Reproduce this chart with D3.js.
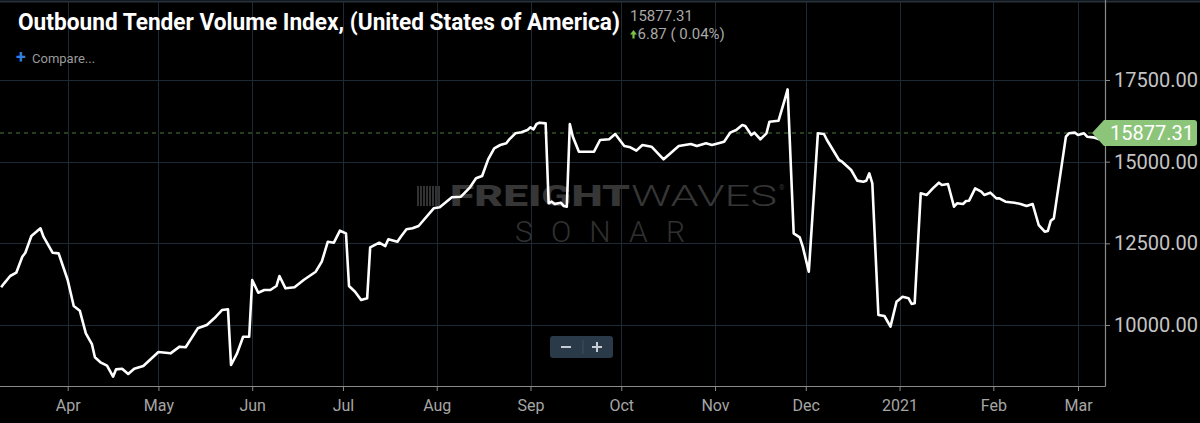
<!DOCTYPE html>
<html><head><meta charset="utf-8">
<script src="https://cdn.jsdelivr.net/npm/d3@7"></script>
<style>
html,body{margin:0;padding:0;background:#000;}
svg{display:block;font-family:Roboto, "Noto Sans", sans-serif;}
</style></head>
<body>
<svg id="chart" width="1200" height="423"></svg>
<script>
// ---- data ----
const titleText = "Outbound Tender Volume Index, (United States of America)";
const lastValue = 15877.31;
const changeText = "6.87 ( 0.04%)";
const compareText = "Compare...";

const dates = [
"2020-03-10","2020-03-11","2020-03-13","2020-03-15","2020-03-17","2020-03-18","2020-03-20","2020-03-23","2020-03-24","2020-03-27","2020-03-29",
"2020-04-01","2020-04-03","2020-04-05","2020-04-07","2020-04-09","2020-04-10","2020-04-12","2020-04-14","2020-04-16","2020-04-17","2020-04-19","2020-04-21","2020-04-23","2020-04-26",
"2020-05-01","2020-05-05","2020-05-08","2020-05-10","2020-05-14","2020-05-17","2020-05-20","2020-05-22","2020-05-24","2020-05-25","2020-05-27","2020-05-29","2020-05-31",
"2020-06-01","2020-06-03","2020-06-05","2020-06-07","2020-06-09","2020-06-10","2020-06-12","2020-06-15","2020-06-18","2020-06-22","2020-06-24","2020-06-26","2020-06-28","2020-06-30",
"2020-07-02","2020-07-03","2020-07-05","2020-07-07","2020-07-09","2020-07-10","2020-07-13","2020-07-15","2020-07-16","2020-07-19","2020-07-20","2020-07-22","2020-07-24","2020-07-26","2020-07-31",
"2020-08-02","2020-08-06","2020-08-09","2020-08-12","2020-08-14","2020-08-16","2020-08-18","2020-08-20","2020-08-22","2020-08-24","2020-08-25","2020-08-27","2020-08-29","2020-08-31",
"2020-09-01","2020-09-02","2020-09-03","2020-09-04","2020-09-06","2020-09-07","2020-09-08","2020-09-09","2020-09-11","2020-09-12","2020-09-13","2020-09-14","2020-09-15","2020-09-17","2020-09-22","2020-09-24","2020-09-27","2020-09-29",
"2020-10-02","2020-10-04","2020-10-06","2020-10-08","2020-10-11","2020-10-15","2020-10-17","2020-10-20","2020-10-24","2020-10-26","2020-10-29","2020-10-31",
"2020-11-04","2020-11-06","2020-11-08","2020-11-10","2020-11-11","2020-11-13","2020-11-14","2020-11-16","2020-11-18","2020-11-19","2020-11-22","2020-11-24","2020-11-25","2020-11-27","2020-11-29","2020-11-30",
"2020-12-02","2020-12-05","2020-12-07","2020-12-08","2020-12-12","2020-12-13","2020-12-16","2020-12-18","2020-12-20","2020-12-21","2020-12-22","2020-12-23","2020-12-25","2020-12-27","2020-12-29","2020-12-31",
"2021-01-02","2021-01-04","2021-01-05","2021-01-06","2021-01-08","2021-01-10","2021-01-12","2021-01-14","2021-01-15","2021-01-17","2021-01-19","2021-01-20","2021-01-22","2021-01-23","2021-01-24","2021-01-26","2021-01-28","2021-01-29","2021-01-31",
"2021-02-02","2021-02-03","2021-02-05","2021-02-08","2021-02-10","2021-02-12","2021-02-14","2021-02-16","2021-02-18","2021-02-19","2021-02-20","2021-02-21","2021-02-25","2021-02-26","2021-02-28",
"2021-03-01","2021-03-03","2021-03-04","2021-03-06","2021-03-08"
];
const values = [
11154,11276,11500,11601,12091,12213,12724,12960,12703,12213,12193,
11377,10582,10438,9745,9418,9011,8846,8755,8418,8643,8663,8500,8663,8745,
9174,9133,9337,9317,9898,10000,10255,10459,10480,8776,9133,9642,9642,
11377,10989,11071,11071,11194,11500,11123,11154,11377,11632,11938,12550,12520,12887,
12806,11194,11020,10765,10816,12378,12520,12418,12623,12550,12684,12929,12960,13030,13572,
13603,13909,13928,14215,14491,14561,15072,15409,15510,15562,15684,15868,15898,15969,
16051,15990,16153,16194,16173,13725,13775,13704,13744,13643,13622,16153,15765,15306,15306,15663,15684,15847,
15479,15439,15337,15510,15459,15072,15235,15479,15541,15479,15562,15510,
15612,15888,15969,16122,16092,15816,15888,15684,15868,16224,16255,16887,17213,12806,12684,12398,
11632,15868,15847,15663,15051,15000,14745,14419,14388,14419,14643,14337,10306,10276,9949,10714,
10867,10816,10643,10663,14031,13980,14184,14357,14286,14317,13622,13725,13704,13796,13806,14184,14082,13980,14051,
13878,13878,13775,13744,13704,13643,13704,13061,12856,12877,13194,13265,15765,15868,15888,
15816,15868,15765,15745,15684
];

const monthTicks = ["2020-04-01","2020-05-01","2020-06-01","2020-07-01","2020-08-01","2020-09-01","2020-10-01","2020-11-01","2020-12-01","2021-01-01","2021-02-01","2021-03-01"];
const monthLabels = ["Apr","May","Jun","Jul","Aug","Sep","Oct","Nov","Dec","2021","Feb","Mar"];
const yTicks = [10000,12500,15000,17500];

// ---- layout ----
const W = 1200, H = 423;
const plotRight = 1105, plotBottom = 386, plotTop = 0;
const parse = d3.utcParse("%Y-%m-%d");
const data = dates.map((d,i)=>({date:parse(d), value:values[i]}));

const x = d3.scaleUtc()
  .domain([new Date(Date.UTC(2020,2,9,15)), new Date(Date.UTC(2021,2,9,22))])
  .range([0, plotRight]);
const y = d3.scaleLinear().domain([8133, 19949]).range([plotBottom, plotTop]);

const svg = d3.select("#chart");
svg.append("rect").attr("width",W).attr("height",H).attr("fill","#000");

const gridColor = "#1d2934";
svg.append("line").attr("x1",0).attr("x2",W).attr("y1",1.5).attr("y2",1.5).attr("stroke","#26313b").attr("stroke-width",2);

// vertical grid
svg.append("g").selectAll("line").data(monthTicks).join("line")
  .attr("x1",d=>Math.round(x(parse(d)))+0.5).attr("x2",d=>Math.round(x(parse(d)))+0.5)
  .attr("y1",2).attr("y2",plotBottom)
  .attr("stroke",gridColor).attr("stroke-width",1);
// horizontal grid
svg.append("g").selectAll("line").data(yTicks).join("line")
  .attr("x1",0).attr("x2",plotRight)
  .attr("y1",d=>Math.round(y(d))+0.5).attr("y2",d=>Math.round(y(d))+0.5)
  .attr("stroke",gridColor).attr("stroke-width",1);

// watermark
const wm = svg.append("g");
const wmX = 417, wmY = 206;
const logoBars = [0,3,6,9,12,15,18,21];
wm.selectAll("rect.logo").data(logoBars).join("rect")
  .attr("x",d=>wmX+d).attr("y",wmY-20).attr("width",2).attr("height",20).attr("fill","#333");
wm.append("text").attr("x",450).attr("y",wmY).attr("font-size",29).attr("font-weight",900)
  .attr("font-family","Roboto, sans-serif").attr("fill","#363636")
  .attr("textLength",180).attr("lengthAdjust","spacingAndGlyphs").text("FREIGHT");
wm.append("text").attr("x",631).attr("y",wmY).attr("font-size",29).attr("font-weight",300)
  .attr("font-family","Roboto, sans-serif").attr("fill","#363636")
  .attr("textLength",146).attr("lengthAdjust","spacingAndGlyphs").text("WAVES");
wm.append("text").attr("x",779).attr("y",wmY-16).attr("font-size",7).attr("fill","#363636").text("®");
wm.append("text").attr("x",515).attr("y",242).attr("font-size",30).attr("font-weight",300)
  .attr("font-family","Roboto, sans-serif").attr("fill","#303030")
  .attr("textLength",170).attr("lengthAdjust","spacing").text("SONAR");

// axes lines
svg.append("line").attr("x1",plotRight+0.5).attr("x2",plotRight+0.5).attr("y1",0).attr("y2",plotBottom+0.5)
  .attr("stroke","#8a8a8a").attr("stroke-width",1.2);
svg.append("line").attr("x1",0).attr("x2",plotRight+0.5).attr("y1",plotBottom+0.5).attr("y2",plotBottom+0.5)
  .attr("stroke","#8a8a8a").attr("stroke-width",1.2);

// bottom axis
const xAxis = d3.axisBottom(x).tickValues(monthTicks.map(parse))
  .tickFormat((d,i)=>monthLabels[i]).tickSize(5).tickPadding(9);
const gx = svg.append("g").attr("transform",`translate(0,${plotBottom})`).call(xAxis);
gx.select(".domain").remove();
gx.selectAll(".tick line").attr("stroke","#8a8a8a");
gx.selectAll(".tick text").attr("fill","#a6a6a6").attr("font-size",16).attr("font-family","Roboto, sans-serif");

// right axis
const yAxis = d3.axisRight(y).tickValues(yTicks).tickFormat(d3.format(".2f")).tickSize(5).tickPadding(4);
const gy = svg.append("g").attr("transform",`translate(${plotRight},0)`).call(yAxis);
gy.select(".domain").remove();
gy.selectAll(".tick line").attr("stroke","#8a8a8a");
gy.selectAll(".tick text").attr("fill","#c4c4c4").attr("font-size",20).attr("font-family","Roboto, sans-serif");

// last value dashed line
const yl = y(lastValue);
svg.append("line").attr("x1",0).attr("x2",1092).attr("y1",yl).attr("y2",yl)
  .attr("stroke","#4e7d3c").attr("stroke-width",1).attr("stroke-dasharray","4,4");

// series line
const line = d3.line().x(d=>x(d.date)).y(d=>y(d.value)).curve(d3.curveLinear);
svg.append("path").datum(data).attr("d",line).attr("fill","none")
  .attr("stroke","#ffffff").attr("stroke-width",2.6).attr("stroke-linejoin","round");

// price tag
const tag = svg.append("g");
tag.append("path")
  .attr("d",`M1092,${yl} L1104,${yl-13} L1194,${yl-13} Q1197,${yl-13} 1197,${yl-10} L1197,${yl+10} Q1197,${yl+13} 1194,${yl+13} L1104,${yl+13} Z`)
  .attr("fill","#8cc47a");
tag.append("text").attr("x",1110).attr("y",yl+7).attr("font-size",20).attr("fill","#ffffff")
  .attr("font-family","Roboto, sans-serif").text(d3.format(".2f")(lastValue));

// title block (condensed via horizontal scale so its box matches the drawn width)
const title = svg.append("text").attr("x",0).attr("y",0).attr("font-size",23.5).attr("font-weight",700)
  .attr("fill","#ffffff").attr("font-family","Roboto, sans-serif").text(titleText);
const tw = title.node().getComputedTextLength() || 602;
title.attr("transform",`translate(18,29.5) scale(${602/tw},1)`);

svg.append("text").attr("x",630).attr("y",20.5).attr("font-size",15).attr("fill","#a8a8a8")
  .attr("font-family","Roboto, sans-serif").text(d3.format(".2f")(lastValue));
svg.append("path").attr("d","M633.5,30 L637,34.5 L634.6,34.5 L634.6,38.5 L632.4,38.5 L632.4,34.5 L630,34.5 Z").attr("fill","#7cc243");
svg.append("text").attr("x",637.5).attr("y",38.5).attr("font-size",15).attr("fill","#a8a8a8")
  .attr("font-family","Roboto, sans-serif").text(changeText);

svg.append("text").attr("x",16).attr("y",63).attr("font-size",18).attr("font-weight",700).attr("fill","#2f7fe0")
  .attr("font-family","Roboto, sans-serif").text("+");
svg.append("text").attr("x",32).attr("y",62.5).attr("font-size",13).attr("fill","#9a9a9a")
  .attr("font-family","Roboto, sans-serif").text(compareText);

// zoom buttons
const zb = svg.append("g");
zb.append("rect").attr("x",550).attr("y",336).attr("width",63).attr("height",22).attr("rx",3).attr("fill","#2a3a48");
zb.append("line").attr("x1",583).attr("x2",583).attr("y1",340).attr("y2",354).attr("stroke","#3e4f5e");
zb.append("line").attr("x1",561).attr("x2",571).attr("y1",347).attr("y2",347).attr("stroke","#c5ccd3").attr("stroke-width",2);
zb.append("line").attr("x1",592).attr("x2",602).attr("y1",347).attr("y2",347).attr("stroke","#c5ccd3").attr("stroke-width",2);
zb.append("line").attr("x1",597).attr("x2",597).attr("y1",342).attr("y2",352).attr("stroke","#c5ccd3").attr("stroke-width",2);
</script>
</body></html>
